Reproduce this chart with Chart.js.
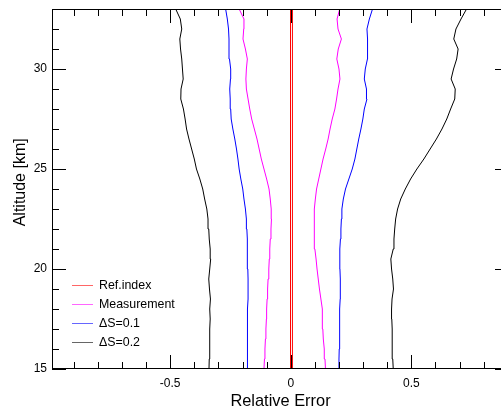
<!DOCTYPE html>
<html>
<head>
<meta charset="utf-8">
<script src="https://cdn.jsdelivr.net/npm/chart.js@4"></script>
<style>
html,body{margin:0;padding:0;overflow:hidden;background:#fff;width:501px;height:410px}
canvas{display:block}
</style>
</head>
<body>
<canvas id="c" width="530" height="410"></canvas>
<script>
// ---- data ----
const altitudes = [15,15.5,16,16.5,17,17.5,18,18.5,19,19.5,20,20.5,21,21.5,22,22.5,23,23.5,24,24.5,25,25.5,26,26.5,27,27.5,28,28.5,29,29.5,30,30.5,31,31.5,32,32.5,33];

const ds02Left  = [-0.339,-0.338,-0.336,-0.337,-0.335,-0.334,-0.336,-0.333,-0.337,-0.340,-0.336,-0.332,-0.334,-0.338,-0.340,-0.343,-0.348,-0.357,-0.365,-0.377,-0.391,-0.400,-0.411,-0.422,-0.432,-0.438,-0.445,-0.456,-0.455,-0.446,-0.449,-0.452,-0.457,-0.460,-0.452,-0.458,-0.477];
const ds02Right = [0.425,0.423,0.421,0.420,0.421,0.419,0.418,0.420,0.426,0.423,0.418,0.415,0.425,0.428,0.431,0.435,0.443,0.456,0.475,0.497,0.523,0.552,0.578,0.604,0.627,0.647,0.663,0.680,0.682,0.665,0.675,0.688,0.694,0.676,0.685,0.706,0.729];

const ds01Left  = [-0.181,-0.181,-0.181,-0.180,-0.179,-0.178,-0.178,-0.177,-0.177,-0.177,-0.178,-0.179,-0.180,-0.181,-0.182,-0.184,-0.188,-0.194,-0.199,-0.207,-0.214,-0.219,-0.225,-0.232,-0.240,-0.247,-0.249,-0.251,-0.253,-0.250,-0.249,-0.254,-0.256,-0.256,-0.258,-0.263,-0.270];
const ds01Right = [0.200,0.200,0.201,0.202,0.202,0.203,0.204,0.205,0.206,0.205,0.204,0.203,0.204,0.206,0.208,0.210,0.212,0.218,0.227,0.241,0.255,0.266,0.274,0.282,0.291,0.299,0.305,0.316,0.314,0.305,0.309,0.318,0.320,0.317,0.316,0.326,0.339];

const measLeft  = [-0.111,-0.109,-0.107,-0.105,-0.103,-0.101,-0.100,-0.098,-0.096,-0.094,-0.091,-0.089,-0.087,-0.085,-0.082,-0.080,-0.081,-0.085,-0.090,-0.100,-0.111,-0.122,-0.131,-0.140,-0.151,-0.162,-0.170,-0.177,-0.184,-0.186,-0.184,-0.180,-0.188,-0.198,-0.195,-0.194,-0.214];
const measRight = [0.144,0.142,0.139,0.135,0.133,0.132,0.130,0.125,0.119,0.114,0.109,0.105,0.100,0.098,0.097,0.097,0.099,0.102,0.107,0.116,0.125,0.134,0.145,0.155,0.163,0.172,0.183,0.190,0.196,0.204,0.200,0.191,0.197,0.210,0.196,0.192,0.203];

const refAltitudes = [15, 33];
const refLeft  = [-0.001, -0.001];
const refRight = [0.007, 0.007];

const legendLabels = ['Ref.index', 'Measurement', '\u0394S=0.1', '\u0394S=0.2'];
const legendColors = ['#ff0000', '#ff00ff', '#0000ff', '#000000'];

const xMajorTicks = [-0.5, 0, 0.5];
const xMinorTicks = [-0.9,-0.8,-0.7,-0.6,-0.4,-0.3,-0.2,-0.1,0.1,0.2,0.3,0.4,0.6,0.7,0.8,0.9];
const yMajorTicks = [15, 20, 25, 30];
const yMinorTicks = [16,17,18,19,21,22,23,24,26,27,28,29,31,32,33];

// ---- helpers ----
const pts = (xs, ys) => xs.map((v, i) => ({x: v, y: ys[i]}));
const line = (label, xs, ys, color) => ({
  label, data: pts(xs, ys), borderColor: color, backgroundColor: color,
  borderWidth: 1, showLine: true, pointRadius: 0, tension: 0, fill: false
});

const FONT = "'Liberation Sans', Arial, Helvetica, sans-serif";

const frameTicks = {
  id: 'frameTicks',
  afterDraw(chart) {
    const {ctx, chartArea: a, scales: {x, y}} = chart;
    ctx.save();
    ctx.strokeStyle = '#000';
    ctx.lineWidth = 1;
    // frame
    ctx.strokeRect(Math.round(a.left) + 0.5, Math.round(a.top) + 0.5,
                   Math.round(a.right - a.left) - 1, Math.round(a.bottom - a.top) - 1);
    ctx.beginPath();
    const xt = (v, len) => {
      const px = Math.round(x.getPixelForValue(v)) + 0.5;
      ctx.moveTo(px, a.bottom); ctx.lineTo(px, a.bottom - len);
      ctx.moveTo(px, a.top); ctx.lineTo(px, a.top + len);
    };
    const yt = (v, len) => {
      const py = Math.round(y.getPixelForValue(v)) + 0.5;
      ctx.moveTo(a.left, py); ctx.lineTo(a.left + len, py);
      ctx.moveTo(a.right, py); ctx.lineTo(a.right - len, py);
    };
    xMajorTicks.forEach(v => xt(v, 14));
    xMinorTicks.forEach(v => xt(v, 7));
    yMajorTicks.forEach(v => yt(v, 14));
    yMinorTicks.forEach(v => yt(v, 7));
    ctx.stroke();

    // legend
    ctx.font = '12.4px ' + FONT;
    ctx.textBaseline = 'middle';
    ctx.textAlign = 'left';
    legendLabels.forEach((lab, i) => {
      const yy = 285.5 + i * 19;
      ctx.strokeStyle = legendColors[i];
      ctx.globalAlpha = 0.6;
      ctx.beginPath();
      ctx.moveTo(a.left + 20, yy); ctx.lineTo(a.left + 41, yy);
      ctx.stroke();
      ctx.globalAlpha = 1;
      ctx.fillStyle = '#000';
      ctx.fillText(lab, a.left + 47, yy);
    });
    ctx.restore();
  }
};

new Chart(document.getElementById('c'), {
  type: 'scatter',
  data: {
    datasets: [
      line('ΔS=0.2', ds02Left, altitudes, '#000000'),
      line('ΔS=0.2', ds02Right, altitudes, '#000000'),
      line('ΔS=0.1', ds01Left, altitudes, '#0000ff'),
      line('ΔS=0.1', ds01Right, altitudes, '#0000ff'),
      line('Measurement', measLeft, altitudes, '#ff00ff'),
      line('Measurement', measRight, altitudes, '#ff00ff'),
      line('Ref.index', refLeft, refAltitudes, '#ff0000'),
      line('Ref.index', refRight, refAltitudes, '#ff0000')
    ]
  },
  options: {
    responsive: false,
    animation: false,
    devicePixelRatio: 1,
    layout: {padding: {left: 0, top: 9, right: 21, bottom: 0}},
    plugins: {legend: {display: false}, tooltip: {enabled: false}},
    scales: {
      x: {
        type: 'linear', position: 'bottom', min: -0.99, max: 0.905,
        grid: {display: false, drawTicks: false},
        border: {display: false},
        afterBuildTicks: s => { s.ticks = xMajorTicks.map(v => ({value: v})); },
        afterFit: s => { s.height = 41; s.paddingLeft = 0; s.paddingRight = 0; },
        ticks: {color: '#000', padding: 7, font: {family: FONT, size: 12}, callback: v => String(v), maxRotation: 0, autoSkip: false},
        title: {display: true, text: 'Relative Error', color: '#000',
                font: {family: FONT, size: 16.4, lineHeight: 1}, padding: {top: 0, bottom: 0}}
      },
      y: {
        type: 'linear', position: 'left', min: 15, max: 33,
        grid: {display: false, drawTicks: false},
        border: {display: false},
        afterBuildTicks: s => { s.ticks = yMajorTicks.map(v => ({value: v})); },
        afterFit: s => { s.width = 52; s.paddingTop = 0; s.paddingBottom = 0; },
        ticks: {color: '#000', padding: 5, font: {family: FONT, size: 12}, callback: v => String(v), autoSkip: false},
        title: {display: true, text: '\u00a0\u00a0\u00a0Altitude [km]', color: '#000',
                font: {family: FONT, size: 16, lineHeight: 1}, padding: {top: 13, bottom: 0}}
      }
    }
  },
  plugins: [frameTicks]
});
</script>
</body>
</html>
